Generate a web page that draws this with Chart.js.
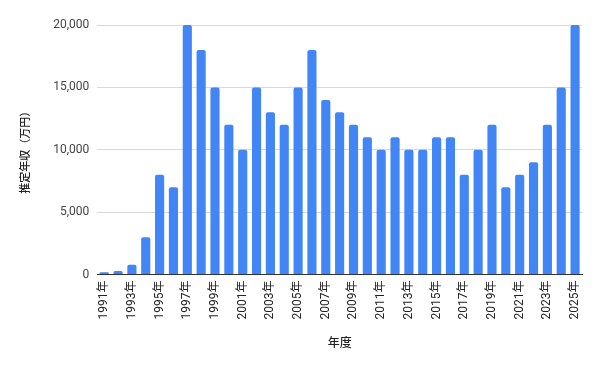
<!DOCTYPE html>
<html><head><meta charset="utf-8">
<script src="https://cdn.jsdelivr.net/npm/chart.js@4/dist/chart.umd.min.js"></script>
<style>html,body{margin:0;padding:0;background:#fff}#w{width:600px;height:370px}</style>
</head><body><div id="w"><canvas id="c" width="600" height="370"></canvas></div>
<script>
const years = ["1991年","1992年","1993年","1994年","1995年","1996年","1997年","1998年","1999年","2000年","2001年","2002年","2003年","2004年","2005年","2006年","2007年","2008年","2009年","2010年","2011年","2012年","2013年","2014年","2015年","2016年","2017年","2018年","2019年","2020年","2021年","2022年","2023年","2024年","2025年"];
const income = [200,300,800,3000,8000,7000,20000,18000,15000,12000,10000,15000,13000,12000,15000,18000,14000,13000,12000,11000,10000,11000,10000,10000,11000,11000,8000,10000,12000,7000,8000,9000,12000,15000,20000];
const yTicks = [0,5000,10000,15000,20000];
const yTitle = "推定年収（万円）";
const xTitle = "年度";
const FONT = "Roboto, 'Liberation Sans', 'Noto Sans CJK JP', sans-serif";
const CJK = "'Noto Sans CJK JP', sans-serif";
new Chart(document.getElementById('c'), {
  type: 'bar',
  data: { labels: years, datasets: [{ data: income, backgroundColor: '#4285f4', borderRadius: {topLeft:2, topRight:2}, borderSkipped: 'bottom', barPercentage: 0.66, categoryPercentage: 1.0 }] },
  options: {
    responsive: false, animation: false,
    layout: { padding: { left: 14, right: 18, top: 25, bottom: 16 } },
    plugins: { legend: { display: false }, tooltip: { enabled: false } },
    scales: {
      x: {
        grid: { display: false, drawTicks: false },
        border: { color: '#333', width: 1 },
        ticks: { color: '#222', font: { family: FONT, size: 12 }, autoSkip: false, minRotation: 90, maxRotation: 90, padding: 6,
          callback: function(v, i) { return i % 2 === 0 ? this.getLabelForValue(v) : ''; } },
        title: { display: true, text: xTitle, color: '#222', font: { family: CJK, size: 12, weight: 500 }, padding: { top: 10 } }
      },
      y: {
        min: 0, max: 20000,
        afterBuildTicks: s => { s.ticks = yTicks.map(v => ({ value: v })); },
        grid: { color: '#d9d9d9', drawTicks: false },
        border: { display: false },
        ticks: { color: '#444', font: { family: FONT, size: 12 }, padding: 8, callback: v => v.toLocaleString('en-US') },
        title: { display: true, text: yTitle, color: '#222', font: { family: CJK, size: 11, weight: 500 }, padding: { bottom: 14 } }
      }
    }
  }
});
</script></body></html>
